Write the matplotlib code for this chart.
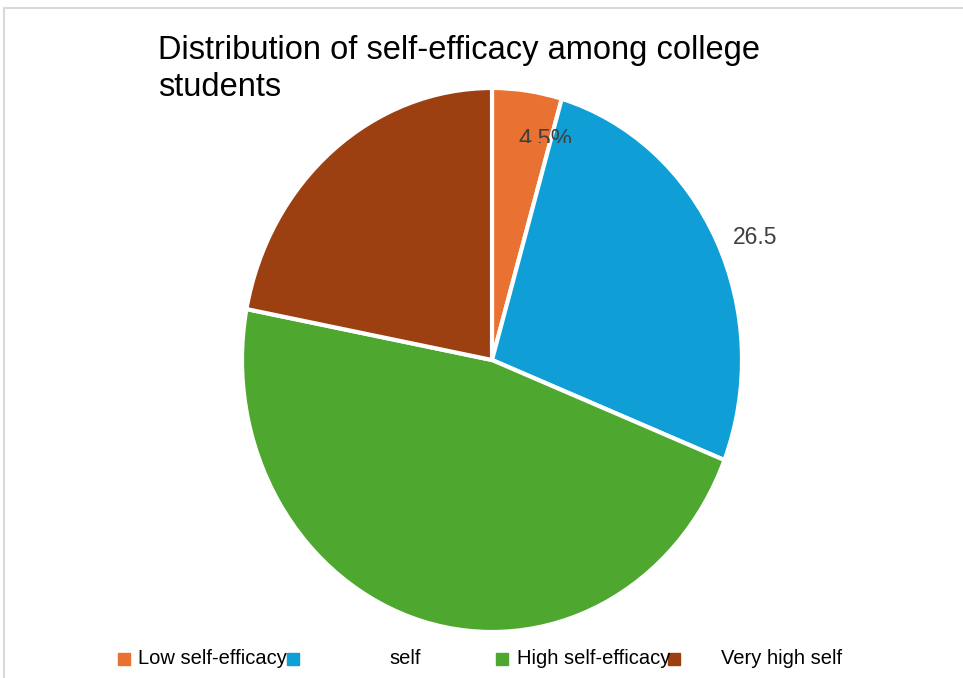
import matplotlib.pyplot as plt
from matplotlib.patches import Rectangle

# data
categories = ["Low self-efficacy", "Medium self-efficacy", "High self-efficacy", "Very high self-efficacy"]
values = [4.5, 26.5, 47.0, 22.0]
colors = ["#E97132", "#0F9ED5", "#4EA72E", "#9C3F11"]
legend_texts = ["Low self-efficacy", "self", "High self-efficacy", "Very high self"]
title_lines = ["Distribution of self-efficacy among college", "students"]

W, H = 963, 678
plt.rcParams['font.family'] = ['Liberation Sans', 'DejaVu Sans']

fig = plt.figure(figsize=(W / 100, H / 100), dpi=100)

# outer chart border
fig.patches.append(Rectangle((4 / W, -0.1), 1.1, 1 - 8 / H + 0.1, transform=fig.transFigure,
                             fill=False, edgecolor="#d9d9d9", lw=1.5))

# pie area (slightly stretched vertically as in the original)
ax = fig.add_axes([242 / W, (H - 632) / H, 500 / W, 544 / H])
wedges, _ = ax.pie(values, colors=colors, startangle=90, counterclock=False,
                   wedgeprops=dict(edgecolor="white", linewidth=3))
ax.set_aspect("auto")
ax.set_xlim(-1, 1)
ax.set_ylim(-1, 1)
ax.axis("off")

# data labels (the first one is cut off at the bottom in the original)
t1 = fig.text(545 / W, 1 - 129 / H, f"{values[0]}%", ha="center", va="top",
              fontsize=17, color="#404040")
clip = Rectangle((0, 1 - 143 / H), 1, 1, transform=fig.transFigure)
t1.set_clip_path(clip)
fig.text(755 / W, 1 - 238 / H, f"{values[1]}", ha="center", va="center",
         fontsize=16.5, color="#404040")

# title
fig.text(158 / W, 1 - 59 / H, title_lines[0], ha="left", va="baseline",
         fontsize=23.5, color="black")
fig.text(158 / W, 1 - 96 / H, title_lines[1], ha="left", va="baseline",
         fontsize=23.5, color="black")

# legend (entries overlap in the original)
sq_x = [118, 287, 496, 668]
tx_x = [138, 389, 517, 721]
for i in range(4):
    fig.patches.append(Rectangle((sq_x[i] / W, 1 - 665 / H), 12 / W, 12 / H,
                                 transform=fig.transFigure, color=colors[i]))
    fig.text(tx_x[i] / W, 1 - 659 / H, legend_texts[i], ha="left", va="center",
             fontsize=14.5, color="black")

fig.savefig("out.png", dpi=100)
